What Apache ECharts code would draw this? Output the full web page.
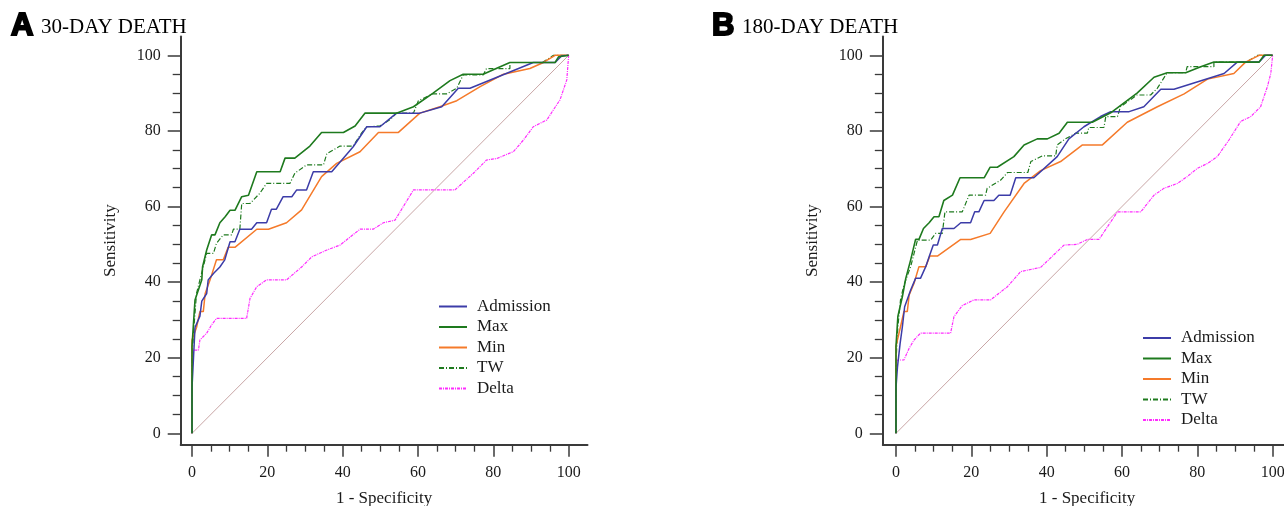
<!DOCTYPE html>
<html lang="en">
<head>
<meta charset="UTF-8">
<title>ROC curves - 30-day and 180-day death</title>
<style>
  html, body { margin: 0; padding: 0; background: #fff; }
  #chart { width: 1284px; height: 506px; }
</style>
<script src="https://cdn.jsdelivr.net/npm/echarts@6.0.0/dist/echarts.min.js"></script>
</head>
<body>
<div id="chart"></div>
<script>
// tick positions (1 - specificity / sensitivity, %)
const majorTicks = [0, 20, 40, 60, 80, 100];
const minorTicks = [5, 10, 15, 25, 30, 35, 45, 50, 55, 65, 70, 75, 85, 90, 95];
const curveNames = ['Admission', 'Max', 'Min', 'TW', 'Delta'];

// reference diagonal
const refLine = [[0, 0], [100, 100]];

// ---- A: 30-day death, [1 - specificity, sensitivity] ----
const admA = [[0,0],[0,12],[0.4,20],[0.8,28],[2.1,31],[2.6,35],[3.9,37],[4.3,40.6],[5.7,42.3],[7.4,44],[8.7,45.9],[10.1,50.7],[11.4,50.7],[12.7,54],[15.8,54],[17.2,55.7],[19.8,55.7],[21.1,59.3],[22.4,59.3],[24.2,62.6],[26.5,62.6],[27.8,64.4],[30.4,64.4],[32.2,69.2],[37.1,69.2],[42.8,75.8],[46.4,81.1],[49.9,81.1],[54.3,84.7],[60.5,84.7],[66.3,86.4],[70.7,91.3],[73.8,91.3],[90.6,98.1],[96.4,98.1],[98.1,99.8],[100,100]];
const maxA = [[0,0],[0,23],[0.8,35.3],[2.6,40.6],[2.8,44],[3.9,48.5],[5.2,52.5],[6.1,52.5],[7.4,55.7],[8.8,57.3],[10.1,59],[11.4,59],[13.2,62.6],[15,63],[17.2,69.2],[23.4,69.2],[24.7,72.8],[27.3,72.8],[31.3,76],[34.4,79.6],[40.2,79.6],[43.3,81.3],[45.9,84.7],[54.3,84.7],[58.8,86.4],[64,90],[68.5,93.3],[72,95],[77.3,95],[80.9,96.6],[84.4,98.1],[96.4,98.1],[97.3,99.6],[100,100]];
const minA = [[0,0],[0,24.7],[1.2,28],[2.1,32.2],[3,32.2],[3.5,37],[4.8,40.6],[6.5,45.9],[8.3,45.9],[9.6,49.2],[11.4,49.2],[17.2,54],[20.3,54],[25.1,55.7],[29.1,59.1],[34.4,67.9],[38.4,71.4],[44.6,74.5],[49.5,79.6],[54.8,79.6],[60.5,84.7],[65.8,86.4],[70.3,88],[76.5,91.7],[82.7,95],[89.7,96.5],[93.3,98.1],[96.4,100],[100,100]];
const twA = [[0,0],[0,20],[0.5,28],[1.2,37],[2.1,40.6],[3.9,47.6],[5.7,47.6],[6.5,50.3],[8.3,52.5],[10.5,52.5],[11,54],[12.7,54],[13.2,60.8],[15.4,60.8],[18,63.5],[19.8,66.1],[26,66.1],[27.3,68.8],[30.4,71],[34.9,71],[35.8,74],[39.3,76],[42.8,76],[45,79.4],[46.4,81.1],[49.9,81.3],[52.6,83],[54.3,84.7],[58.8,84.7],[60.1,88],[64,89.8],[67.6,89.8],[70.3,91.3],[72,94.8],[77.3,94.8],[78.2,96.5],[84.4,96.5],[84.4,98.1],[93,98.1],[96,100],[100,100]];
const delA = [[0,0],[0,19.4],[0.4,22],[1.7,22],[2.1,24.7],[3.9,26.5],[5.2,28.7],[6.5,30.4],[14.5,30.4],[15.4,35.7],[17.2,38.8],[19.8,40.6],[25.1,40.6],[29.1,44],[31.8,46.7],[35.8,48.5],[39.3,49.8],[44.6,54],[48.1,54],[50.8,55.7],[53.9,56.4],[58.8,64.4],[69.8,64.4],[74.7,68.8],[78.2,72.3],[80.9,72.7],[85.3,74.5],[88,77.6],[90.6,81.1],[94.2,82.9],[95.9,85.5],[97.7,88.2],[99.5,93.5],[100,100]];

// ---- B: 180-day death ----
const admB = [[0,0],[0,12],[0.4,17.6],[1.1,23.8],[1.7,28.2],[2.3,33.5],[3.9,37.9],[5.2,41],[6.5,41],[7.9,44.1],[8.8,46.7],[9.9,49.8],[11,49.8],[12.3,54.2],[15.4,54.2],[17.2,55.7],[19.8,55.7],[20.9,58.6],[22,58.6],[23.4,61.6],[26,61.6],[27.3,63],[30.3,63],[31.8,67.6],[36.6,67.6],[42.8,73.2],[45.9,77.9],[49.9,81.1],[54.3,83.8],[57,85.1],[61.9,85.1],[65.8,86.4],[70.3,91],[73.8,91],[87.1,95.2],[90.6,98.2],[96.4,98.2],[98.1,100],[100,100]];
const maxB = [[0,0],[0,23],[0.5,30.9],[1.7,36.2],[2.6,41],[3.9,45.9],[5.2,51.3],[6.1,51.3],[7.3,54.2],[8.8,55.7],[10.1,57.3],[11.4,57.3],[12.7,61.6],[15,63],[17,67.6],[23.4,67.6],[25,70.4],[26.9,70.4],[31.3,73.2],[34,76.3],[37.5,77.9],[40.2,77.9],[43.3,79.4],[45.5,82.3],[52.1,82.3],[57,84.8],[64,90],[68.5,94.2],[72,95.4],[76.9,95.4],[80.9,97],[84.4,98.2],[96.4,98.2],[97.7,100],[100,100]];
const minB = [[0,0],[0,23],[1.2,28.2],[2.1,32.2],[3,32.2],[3.5,36.6],[4.8,39.7],[6.1,44.1],[7.9,44.1],[9,46.9],[11,46.9],[17.2,51.3],[19.8,51.3],[25,52.9],[28.7,58.6],[34,66.1],[38.4,69.5],[43.7,71.9],[49.5,76.3],[54.8,76.3],[61.4,82.3],[69.4,86.4],[76.5,89.8],[82.7,93.7],[89.7,95.2],[92.8,98.2],[96.4,100],[100,100]];
const twB = [[0,0],[0,19],[0.5,28.2],[1.2,35.3],[2.1,39.2],[3.9,44.1],[4.8,47.6],[5.7,51.1],[9.2,51.1],[10.5,52.9],[12.3,52.9],[13,58.6],[17.6,58.6],[19.4,63],[23.8,63],[24.2,64.8],[27.8,67],[29.6,69],[35,69],[35.8,71.9],[38.9,73.4],[42.4,73.4],[42.8,76.3],[45,77.9],[47.7,79.4],[50.8,79.4],[51.2,80.9],[55.2,80.9],[55.7,83.8],[58.8,83.8],[59.6,86.4],[64,89.5],[67.6,89.5],[69.4,91.3],[72,95.4],[76.9,95.4],[77.3,97],[84.4,97],[84.4,98.2],[93,98.2],[96,100],[100,100]];
const delB = [[0,0],[0,17.6],[0.4,19.4],[2.1,19.4],[3.5,22.5],[4.8,24.7],[6.5,26.5],[14.5,26.5],[15.4,30.9],[17.6,33.8],[20.7,35.3],[25.1,35.3],[29.6,38.8],[33.1,42.8],[38.4,43.9],[44.6,49.8],[48.1,50],[50.8,51.3],[53.9,51.3],[58.8,58.6],[65,58.6],[68.5,63],[71.1,64.8],[74.7,66.1],[77.3,67.9],[80,70.1],[82.7,71.4],[85.3,73.2],[88.4,77.6],[91.5,82.5],[94.2,83.8],[96.8,86.4],[98.6,91.7],[99.5,95.2],[100,100]];

const serif = '"Liberation Serif", "Times New Roman", serif';
const axisColor = '#3a3a3a';
const textColor = '#1a1a1a';

// look of each curve
const styles = {
  Admission: { color: '#3c3ca8', width: 1.5, type: 'solid' },
  Max:       { color: '#1e7a1e', width: 1.6, type: 'solid' },
  Min:       { color: '#f57a2a', width: 1.5, type: 'solid' },
  TW:        { color: '#1e7a1e', width: 1.2, type: [5, 2, 1, 2] },
  Delta:     { color: '#ff2cff', width: 1.2, type: [3, 1, 1, 1] }
};

const panels = [
  { letter: 'A', title: '30-DAY DEATH', letterLeft: 11, titleLeft: 41,
    grid: { left: 180.7, top: 36.4, width: 406.8, height: 408.3, outerBoundsMode: 'none', containLabel: false }, xMin: -3,
    legendLeft: 438, legendTop: 298,
    curves: { Admission: admA, Max: maxA, Min: minA, TW: twA, Delta: delA } },
  { letter: 'B', title: '180-DAY DEATH', letterLeft: 712, titleLeft: 742,
    grid: { left: 882.8, top: 36.4, width: 408.7, height: 408.3, outerBoundsMode: 'none', containLabel: false }, xMin: -3.5,
    legendLeft: 1142, legendTop: 329.5,
    curves: { Admission: admB, Max: maxB, Min: minB, TW: twB, Delta: delB } }
];

function axisBase(gi, min, max) {
  return { type: 'value', gridIndex: gi, min: min, max: max, splitLine: { show: false } };
}

const grids = [], xAxes = [], yAxes = [], series = [], titles = [], legends = [];

panels.forEach((p, gi) => {
  grids.push(p.grid);
  const xi = xAxes.length, yi = yAxes.length;

  // main x axis: line, long ticks, labels, name
  xAxes.push(Object.assign(axisBase(gi, p.xMin, 105), {
    position: 'bottom',
    name: '1 - Specificity', nameLocation: 'middle', nameGap: 45,
    nameTextStyle: { fontFamily: serif, fontSize: 17, color: textColor },
    axisLine: { show: true, onZero: false, lineStyle: { color: axisColor, width: 2 } },
    axisTick: { show: true, customValues: majorTicks, length: 12, lineStyle: { color: axisColor, width: 1.5 } },
    axisLabel: { customValues: majorTicks, margin: 20, fontFamily: serif, fontSize: 16, color: textColor }
  }));
  // minor x ticks
  xAxes.push(Object.assign(axisBase(gi, p.xMin, 105), {
    position: 'bottom',
    axisLine: { show: false, onZero: false },
    axisTick: { show: true, customValues: minorTicks, length: 7, lineStyle: { color: axisColor, width: 1.3 } },
    axisLabel: { show: false }
  }));

  yAxes.push(Object.assign(axisBase(gi, -3, 105), {
    position: 'left',
    name: 'Sensitivity', nameLocation: 'middle', nameGap: 62,
    nameTextStyle: { fontFamily: serif, fontSize: 17, color: textColor },
    axisLine: { show: true, onZero: false, lineStyle: { color: axisColor, width: 2 } },
    axisTick: { show: true, customValues: majorTicks, length: 13, lineStyle: { color: axisColor, width: 1.5 } },
    axisLabel: { customValues: majorTicks, margin: 20, fontFamily: serif, fontSize: 16, color: textColor }
  }));
  yAxes.push(Object.assign(axisBase(gi, -3, 105), {
    position: 'left',
    axisLine: { show: false, onZero: false },
    axisTick: { show: true, customValues: minorTicks, length: 8, lineStyle: { color: axisColor, width: 1.3 } },
    axisLabel: { show: false }
  }));

  series.push({
    type: 'line', name: 'ref', xAxisIndex: xi, yAxisIndex: yi, data: refLine,
    symbol: 'none', silent: true, lineStyle: { color: '#c9a6a6', width: 1 }, z: 1
  });

  // draw order: Delta under, Max on top
  ['Delta', 'TW', 'Min', 'Admission', 'Max'].forEach((name, k) => {
    const s = styles[name];
    series.push({
      type: 'line', name: name, xAxisIndex: xi, yAxisIndex: yi,
      data: p.curves[name], symbol: 'none', showSymbol: false,
      lineStyle: { color: s.color, width: s.width, type: s.type },
      itemStyle: { color: s.color }, z: 2 + k
    });
  });

  titles.push({
    text: p.letter, left: p.letterLeft, top: 11, padding: 0,
    textStyle: { fontFamily: '"Liberation Sans", Arial, sans-serif', fontWeight: 'bold', fontSize: 31,
      color: '#000', textBorderColor: '#000', textBorderWidth: 2 }
  });
  titles.push({
    text: p.title, left: p.titleLeft, top: 17, padding: 0,
    textStyle: { fontFamily: serif, fontWeight: 'normal', fontSize: 21, color: '#000' }
  });

  legends.push({
    data: curveNames, orient: 'vertical', left: p.legendLeft, top: p.legendTop,
    padding: 0, itemWidth: 28, itemHeight: 10, itemGap: 3.5,
    selectedMode: false,
    itemStyle: { opacity: 0 },
    textStyle: { fontFamily: serif, fontSize: 17, lineHeight: 17, color: textColor, padding: [0, 0, 0, 5] }
  });
});

const chart = echarts.init(document.getElementById('chart'));
chart.setOption({
  animation: false,
  backgroundColor: '#fff',
  title: titles,
  legend: legends,
  grid: grids,
  xAxis: xAxes,
  yAxis: yAxes,
  series: series
});
</script>
</body>
</html>
